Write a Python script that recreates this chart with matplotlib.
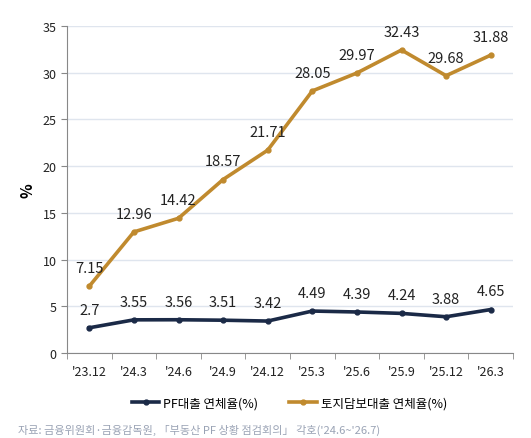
import matplotlib.pyplot as plt
import numpy as np

plt.rcParams['font.family'] = ['Noto Sans CJK KR', 'DejaVu Sans']

# data
periods = ["'23.12", "'24.3", "'24.6", "'24.9", "'24.12", "'25.3", "'25.6", "'25.9", "'25.12", "'26.3"]
pf_rate = [2.7, 3.55, 3.56, 3.51, 3.42, 4.49, 4.39, 4.24, 3.88, 4.65]
land_rate = [7.15, 12.96, 14.42, 18.57, 21.71, 28.05, 29.97, 32.43, 29.68, 31.88]
pf_labels = ['2.7', '3.55', '3.56', '3.51', '3.42', '4.49', '4.39', '4.24', '3.88', '4.65']
land_labels = ['7.15', '12.96', '14.42', '18.57', '21.71', '28.05', '29.97', '32.43', '29.68', '31.88']

navy = '#1b2a47'
gold = '#c08a2e'

fig = plt.figure(figsize=(5.31, 4.39), dpi=100)
ax = fig.add_axes([67 / 531, 1 - 354 / 439, (513 - 67) / 531, (354 - 27) / 439])

x = np.arange(len(periods))
ax.plot(x, pf_rate, color=navy, lw=2.6, marker='o', ms=3.5, label='PF대출 연체율(%)', zorder=3)
ax.plot(x, land_rate, color=gold, lw=2.6, marker='o', ms=3.5, label='토지담보대출 연체율(%)', zorder=3)

for xi, v, t in zip(x, pf_rate, pf_labels):
    ax.annotate(t, (xi, v), xytext=(0, 8), textcoords='offset points', ha='center', va='bottom',
                fontsize=10.5, color='#222222')
for xi, v, t in zip(x, land_rate, land_labels):
    ax.annotate(t, (xi, v), xytext=(0, 8), textcoords='offset points', ha='center', va='bottom',
                fontsize=10.5, color='#222222')

ax.set_xlim(-0.5, len(periods) - 0.5)
ax.set_ylim(0, 35)
ax.set_yticks(range(0, 36, 5))
ax.set_xticks(x)
ax.set_xticklabels(periods, fontsize=9, color='#222222')
ax.tick_params(axis='x', length=0, pad=9)
ax.set_xticks(np.arange(-0.5, len(periods), 1), minor=True)
ax.tick_params(axis='x', which='minor', length=4, color='#888888', direction='out')
ax.tick_params(axis='y', length=4, color='#888888', labelsize=9, labelcolor='#222222')
ax.grid(axis='y', color='#dfe5ee', lw=1)
ax.set_axisbelow(True)
for s in ['top', 'right']:
    ax.spines[s].set_visible(False)
for s in ['left', 'bottom']:
    ax.spines[s].set_color('#888888')
ax.set_ylabel('%', fontsize=11, fontweight='bold', labelpad=5)

fig.legend(loc='center', bbox_to_anchor=(0.545, 1 - 404 / 439), ncol=2, frameon=False,
           fontsize=9, handlelength=2.2, columnspacing=2.5, handletextpad=0.3)
fig.text(18 / 531, 1 - 430 / 439, '자료: 금융위원회·금융감독원, 「부동산 PF 상황 점검회의」 각호(\'24.6~\'26.7)',
         fontsize=8, style='italic', color='#9aa3b5', va='center')

fig.savefig('out.png', dpi=100)
